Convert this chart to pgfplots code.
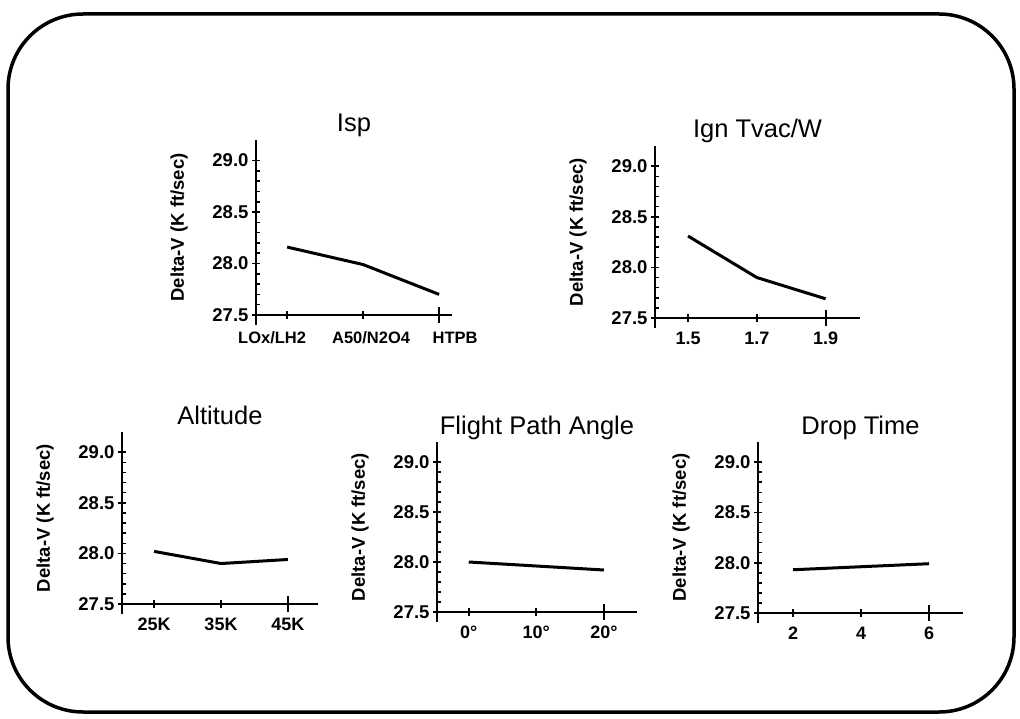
\documentclass[border=0pt]{standalone}
\usepackage{fontspec}
\setmainfont{Liberation Sans}
\usepackage{pgfplots}
\pgfplotsset{compat=1.18}

\pgfplotsset{panel/.style={scale only axis, axis lines=left,
  axis line style={-},
  every outer x axis line/.append style={line width=2.5pt},
  every outer y axis line/.append style={line width=2.5pt, shorten <=-10pt},
  ymin=27.5, ymax=29.2, ytick={27.5,28,28.5,29}, minor y tick num=4,
  tick align=center, major tick length=8pt, minor tick length=4pt,
  major tick style={black, line width=1.8pt}, minor tick style={black, line width=1.5pt},
  minor y tick style={xshift=2pt},
  major x tick style={shorten <=-4pt, shorten >=-4pt},
  yticklabel style={font=\fontsize{18.5}{18.5}\selectfont\bfseries,
    /pgf/number format/fixed, /pgf/number format/fixed zerofill,
    /pgf/number format/precision=1, /pgf/number format/assume math mode=true},
  xticklabel style={font=\fontsize{18}{18}\selectfont\bfseries, yshift=-6pt,
    text height=13pt, text depth=3pt,
    /pgf/number format/fixed, /pgf/number format/assume math mode=true},
  title style={at={(0.5,1)}, anchor=base, yshift=2pt, font=\fontsize{25.5}{25.5}\selectfont},
  every axis y label/.style={at={(axis description cs:0,0.5)}, xshift=-77pt, rotate=90, anchor=center,
    font=\fontsize{18.5}{18.5}\selectfont\bfseries},
  ylabel={Delta-V (K ft/sec)}}}

\begin{document}
\begin{tikzpicture}
\useasboundingbox (0pt,0pt) rectangle (1020pt,-719pt);
\draw[line width=3.5pt, rounded corners=75pt] (8pt,-14pt) rectangle (1014pt,-712pt);

% Isp
\begin{axis}[panel, at={(256pt,-315pt)}, anchor=south west, width=196pt, height=175pt,
  xmin=-0.41, xmax=2.17, xtick={0,1,2},
  xticklabels={\hspace*{-30pt}LOx/LH2,\hspace*{16pt}A50/N2O4,\hspace*{32pt}HTPB},
  xticklabel style={font=\fontsize{16.5}{16.5}\selectfont\bfseries, yshift=-3pt,
    text height=12pt, text depth=3pt}, title={Isp}]
\addplot[black, line width=3pt] coordinates {(0,28.16) (1,27.99) (2,27.70)};
\end{axis}

% Ign Tvac/W
\begin{axis}[panel, at={(655pt,-318pt)}, anchor=south west, width=205pt, height=172pt,
  xmin=1.404, xmax=2.0, xtick={1.5,1.7,1.9}, title={Ign Tvac/W}]
\addplot[black, line width=3pt] coordinates {(1.5,28.31) (1.7,27.90) (1.9,27.69)};
\end{axis}

% Altitude
\begin{axis}[panel, at={(122pt,-604pt)}, anchor=south west, width=196pt, height=172pt,
  xmin=20.2, xmax=49.5, xtick={25,35,45}, xticklabels={25K,35K,45K}, title={Altitude}]
\addplot[black, line width=3pt] coordinates {(25,28.02) (35,27.90) (45,27.94)};
\end{axis}

% Flight Path Angle
\begin{axis}[panel, at={(437pt,-612pt)}, anchor=south west, width=200pt, height=170pt,
  xmin=-4.7, xmax=24.9, xtick={0,10,20}, xticklabels={0°,10°,20°}, title={Flight Path Angle}]
\addplot[black, line width=3pt] coordinates {(0,28.00) (10,27.96) (20,27.92)};
\end{axis}

% Drop Time
\begin{axis}[panel, at={(758pt,-613pt)}, anchor=south west, width=205pt, height=171pt,
  xmin=0.97, xmax=7.0, xtick={2,4,6}, title={Drop Time}]
\addplot[black, line width=3pt] coordinates {(2,27.93) (4,27.96) (6,27.99)};
\end{axis}
\end{tikzpicture}
\end{document}
